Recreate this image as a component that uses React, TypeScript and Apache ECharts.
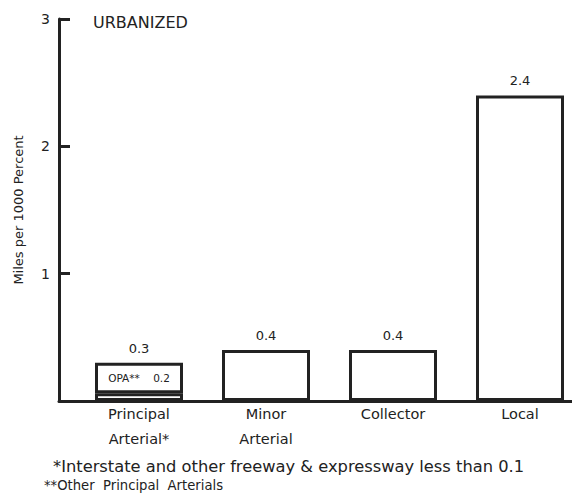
import React, { useEffect, useRef } from "react";
import * as echarts from "echarts";

const categories = ["Principal\nArterial*", "Minor\nArterial", "Collector", "Local"];
const interstateValues: (number | null)[] = [0.06, null, null, null];
const otherValues = [0.24, 0.4, 0.4, 2.4];
const totalLabels = ["0.3", "0.4", "0.4", "2.4"];
const opaLabel = "OPA**    0.2";
const yMin = 0;
const yMax = 3;
const yInterval = 1;
const chartTitle = "URBANIZED";
const yAxisName = "Miles per 1000 Percent";
const footnote1 = "*Interstate and other freeway & expressway less than 0.1";
const footnote2 = "**Other  Principal  Arterials";

const INK = "#222";
const FONT = "'DejaVu Sans', 'Liberation Sans', Arial, sans-serif";

export default function App() {
  const ref = useRef<HTMLDivElement>(null);
  useEffect(() => {
    if (!ref.current) return;
    const chart = echarts.init(ref.current, null, { renderer: "svg" });
    const barStyle = { color: "#fff", borderColor: INK, borderWidth: 3 };
    chart.setOption({
      animation: false,
      textStyle: { fontFamily: FONT, color: INK },
      title: {
        text: chartTitle,
        left: 88,
        top: 9,
        textStyle: { fontFamily: FONT, fontSize: 16, fontWeight: "normal", color: INK },
      },
      grid: [
        { left: 75.5, width: 508, top: 19, bottom: 101, outerBoundsMode: "none", containLabel: false },
        { left: 59, right: 0, top: 19, bottom: 101, outerBoundsMode: "none" },
      ],
      xAxis: [
        {
          type: "category",
          gridIndex: 0,
          data: categories,
          axisLine: { show: false },
          axisTick: { show: false },
          axisLabel: { fontSize: 14.5, color: INK, lineHeight: 25, margin: 0, fontFamily: FONT },
        },
        {
          type: "value",
          gridIndex: 1,
          min: 0,
          max: 1,
          axisLine: { show: true, lineStyle: { color: INK, width: 3 } },
          axisTick: { show: false },
          axisLabel: { show: false },
          splitLine: { show: false },
        },
      ],
      yAxis: [
        {
          type: "value",
          gridIndex: 0,
          min: yMin,
          max: yMax,
          interval: yInterval,
          offset: 16.5,
          name: yAxisName,
          nameLocation: "middle",
          nameGap: 34,
          nameTextStyle: { fontSize: 13, color: INK, fontFamily: FONT },
          axisLine: { show: true, lineStyle: { color: INK, width: 3 } },
          axisTick: { show: true, inside: true, length: 11, lineStyle: { color: INK, width: 3 } },
          axisLabel: {
            fontSize: 14,
            color: INK,
            margin: 9,
            fontFamily: FONT,
            formatter: (v: number) => (v === 0 ? "" : String(v)),
          },
          splitLine: { show: false },
        },
        {
          type: "value",
          gridIndex: 1,
          min: yMin,
          max: yMax,
          show: false,
        },
      ],
      series: [
        {
          type: "bar",
          name: "Interstate",
          xAxisIndex: 0,
          yAxisIndex: 0,
          stack: "total",
          barWidth: 88,
          z: 3,
          data: interstateValues,
          itemStyle: barStyle,
          label: {
            show: true,
            position: "top",
            distance: 10,
            fontSize: 10.5,
            color: INK,
            fontFamily: FONT,
            formatter: () => opaLabel,
          },
        },
        {
          type: "bar",
          name: "Other",
          xAxisIndex: 0,
          yAxisIndex: 0,
          stack: "total",
          barWidth: 88,
          data: otherValues,
          itemStyle: barStyle,
          label: {
            show: true,
            position: "top",
            distance: 8,
            fontSize: 13,
            color: INK,
            fontFamily: FONT,
            formatter: (p: any) => totalLabels[p.dataIndex],
          },
        },
      ],
      graphic: [
        {
          type: "text",
          left: 53,
          top: 458,
          style: { text: footnote1, fontSize: 16.3, fill: INK, fontFamily: FONT },
        },
        {
          type: "text",
          left: 44,
          top: 479,
          style: { text: footnote2, fontSize: 13.2, fill: INK, fontFamily: FONT },
        },
      ],
    });
    return () => chart.dispose();
  }, []);
  return (
    <div
      ref={ref}
      style={{ position: "fixed", left: 0, top: 0, width: 572, height: 502, background: "#fff" }}
    />
  );
}
